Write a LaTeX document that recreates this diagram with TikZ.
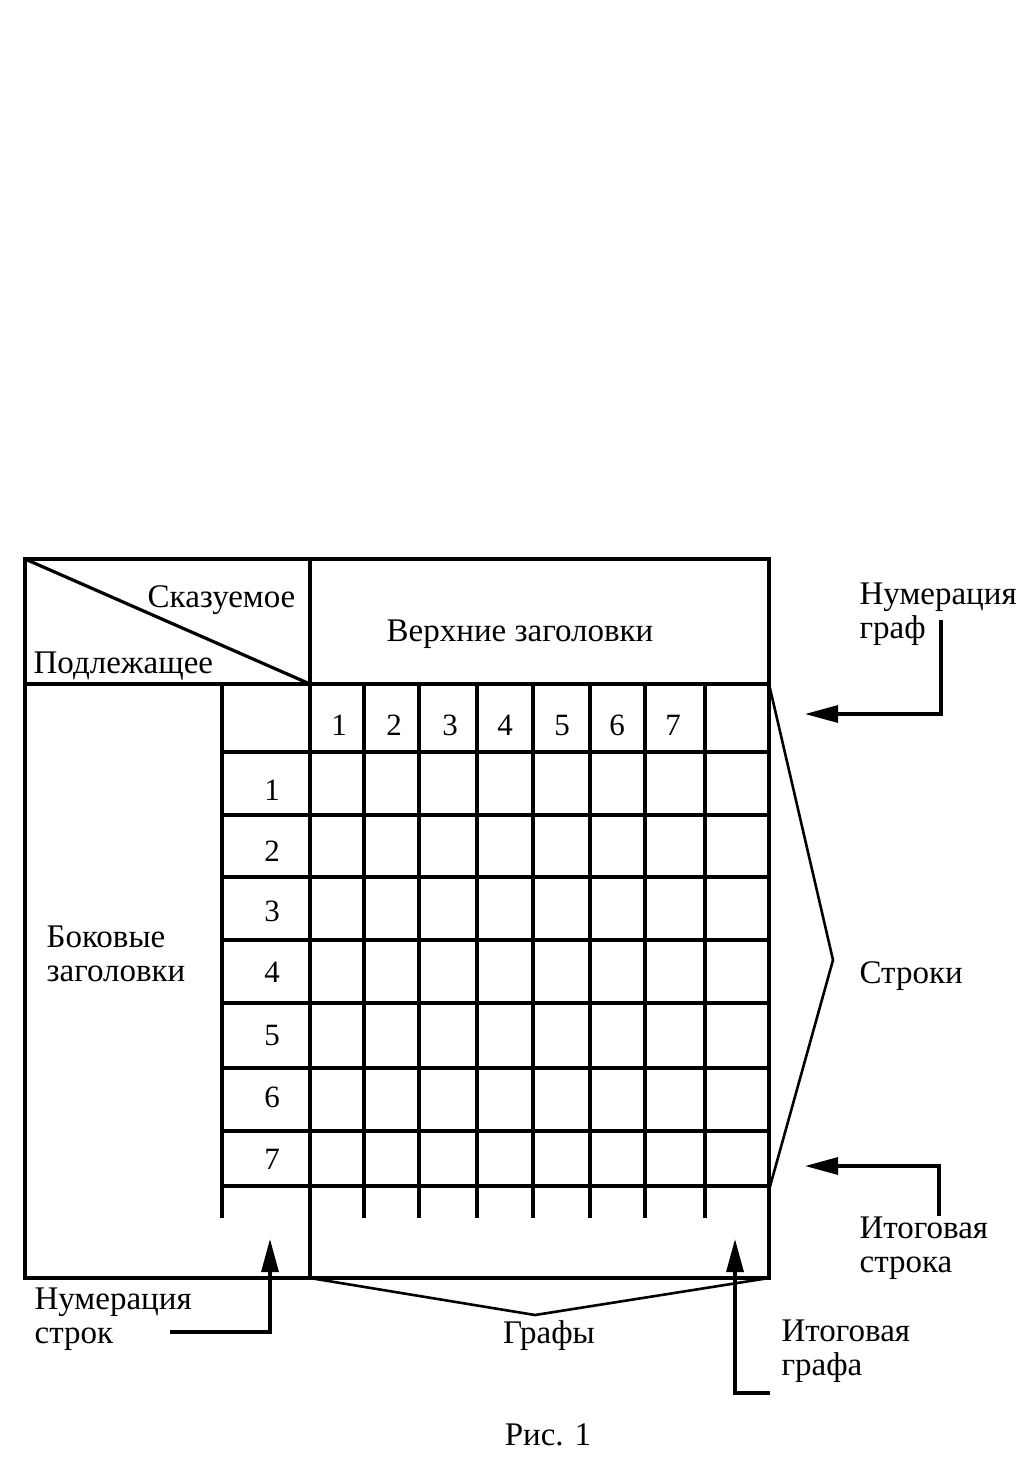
\documentclass[tikz,border=0pt]{standalone}
\usepackage{fontspec}
\setmainfont{Liberation Serif}
\usetikzlibrary{arrows.meta}

\tikzset{
  lbl/.style={font=\fontsize{33}{34}\selectfont, inner sep=0pt, align=left},
  num/.style={font=\fontsize{31}{34}\selectfont, inner sep=0pt, anchor=base},
  pointer/.style={line width=3.2pt, -{Triangle[length=33pt,width=17pt]}},
}

\begin{document}
\begin{tikzpicture}[x=1pt,y=-1pt,line width=3.2pt]
  \useasboundingbox (0,0) rectangle (1026,1461);

  % table frame
  \coordinate (TL) at (25,559);
  \coordinate (TR) at (769,559);
  \coordinate (BL) at (25,1278);
  \coordinate (BR) at (769,1278);
  \coordinate (HM) at (310,684);
  \coordinate (BM) at (310,1278);
  \draw (TL) rectangle (BR);
  \draw (25,684) -- (769,684);
  \draw (310,559) -- (BM);
  \draw (TL) -- (HM);

  % grid
  \draw (222,684) -- (222,1218);
  \foreach \x in {364,419,477,533,590,645,705}
    \draw (\x,684) -- (\x,1218);
  \foreach \y in {752,815,877,940,1003,1068,1131,1186}
    \draw (222,\y) -- (769,\y);

  % numbers
  \foreach \n/\x in {1/339,2/394,3/450,4/505,5/562,6/617,7/673}
    \node[num] (col\n) at (\x,735) {\n};
  \foreach \n/\y in {1/800,2/861,3/921,4/982,5/1045,6/1107,7/1169}
    \node[num] (row\n) at (272,\y) {\n};

  % headings
  \node[lbl,anchor=base east] (skaz) at (297,607) {Сказуемое};
  \node[lbl,anchor=base west] (podl) at (32,673) {Подлежащее};
  \node[lbl,anchor=base] (verh) at (520,641) {Верхние заголовки};
  \node[lbl,anchor=base west] (bok) at (45,981) {Боковые\\заголовки};

  % right side
  \node[lbl,anchor=base west] (numgraf) at (858,638) {Нумерация\\граф};
  \coordinate (ng) at (941,620);
  \coordinate (ngtip) at (805,714);
  \draw[pointer] (ng) |- (ngtip);

  \coordinate (sa) at (769,684);
  \coordinate (sb) at (833,960);
  \coordinate (sc) at (769,1190);
  \draw[line width=2.6pt] (sa) -- (sb) -- (sc);
  \node[lbl,anchor=base west] (stroki) at (858,983) {Строки};

  \node[lbl,anchor=base west] (itstr) at (858,1272) {Итоговая\\строка};
  \coordinate (is) at (939,1216);
  \coordinate (istip) at (805,1166);
  \draw[pointer] (is) |- (istip);

  % bottom
  \coordinate (gm) at (535,1315);
  \draw[line width=2.6pt] (BM) -- (gm) -- (BR);
  \node[lbl,anchor=base] (grafy) at (549,1343) {Графы};

  \node[lbl,anchor=base west] (numstr) at (33,1343) {Нумерация\\строк};
  \coordinate (ns) at (170,1332);
  \coordinate (nstip) at (270,1239);
  \draw[pointer] (ns) -| (nstip);

  \node[lbl,anchor=base west] (itgr) at (780,1375) {Итоговая\\графа};
  \coordinate (ig) at (770,1393);
  \coordinate (igtip) at (735,1239);
  \draw[pointer] (ig) -| (igtip);

  \node[lbl,anchor=base] (ris) at (548,1445) {Рис. 1};
\end{tikzpicture}
\end{document}
